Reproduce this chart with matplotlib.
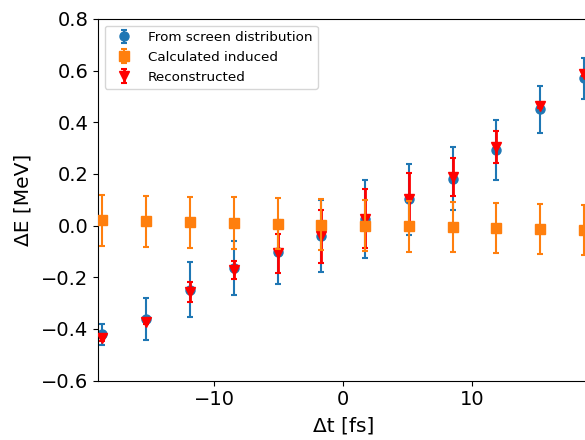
import numpy as np
import matplotlib
matplotlib.use("Agg")
import matplotlib.pyplot as plt

# Time offsets [fs]
dt = [-18.7, -15.3, -11.9, -8.5, -5.1, -1.7, 1.7, 5.1, 8.5, 11.9, 15.3, 18.7]

# From screen distribution
screen_E = [-0.421, -0.362, -0.248, -0.164, -0.102, -0.040, 0.026, 0.101, 0.182, 0.293, 0.450, 0.570]
screen_err = [0.040, 0.082, 0.105, 0.105, 0.123, 0.140, 0.150, 0.138, 0.122, 0.115, 0.092, 0.080]

# Calculated induced
calc_E = [0.021, 0.017, 0.013, 0.010, 0.007, 0.004, 0.000, -0.003, -0.006, -0.009, -0.013, -0.016]
calc_err = [0.099, 0.099, 0.099, 0.099, 0.099, 0.098, 0.098, 0.098, 0.098, 0.097, 0.097, 0.097]

# Reconstructed
reco_E = [-0.436, -0.374, -0.257, -0.172, -0.108, -0.042, 0.027, 0.102, 0.189, 0.304, 0.463, 0.586]
reco_err = [0.010, 0.008, 0.038, 0.035, 0.074, 0.103, 0.114, 0.102, 0.073, 0.063, 0.008, 0.008]

fig = plt.figure(figsize=(5.85, 4.4), dpi=100)
ax = fig.add_axes([98 / 585, (440 - 380.5) / 440, (588.4 - 98) / 585, (380.5 - 19) / 440])

h1 = ax.errorbar(dt, screen_E, yerr=screen_err, fmt='o', color='#1f77b4',
                 capsize=2, markersize=6.5, elinewidth=1.5, capthick=1.5,
                 label='From screen distribution', zorder=2)
h3 = ax.errorbar(dt, reco_E, yerr=reco_err, fmt='v', color='red',
                 capsize=2, markersize=7.5, elinewidth=2, capthick=1.5,
                 label='Reconstructed', zorder=3)
h2 = ax.errorbar(dt, calc_E, yerr=calc_err, fmt='s', color='#ff7f0e',
                 capsize=2, markersize=6.5, elinewidth=1.5, capthick=1.5,
                 label='Calculated induced', zorder=4)

ax.set_xlim(-19.04, 19.04)
ax.set_ylim(-0.6, 0.8)
ax.set_xticks([-10, 0, 10])
ax.set_yticks([-0.6, -0.4, -0.2, 0.0, 0.2, 0.4, 0.6, 0.8])
ax.set_yticklabels(['\u22120.6', '\u22120.4', '\u22120.2', '0.0', '0.2', '0.4', '0.6', '0.8'])
ax.set_xticklabels(['\u221210', '0', '10'])
ax.tick_params(labelsize=14)
ax.set_xlabel('\u0394t [fs]', fontsize=14.5, labelpad=5)
ax.set_ylabel('\u0394E [MeV]', fontsize=14.5, labelpad=6)

ax.legend([h1, h2, h3], ['From screen distribution', 'Calculated induced', 'Reconstructed'],
          loc='upper left', fontsize=9.7)

fig.savefig('out.png', dpi=100)
